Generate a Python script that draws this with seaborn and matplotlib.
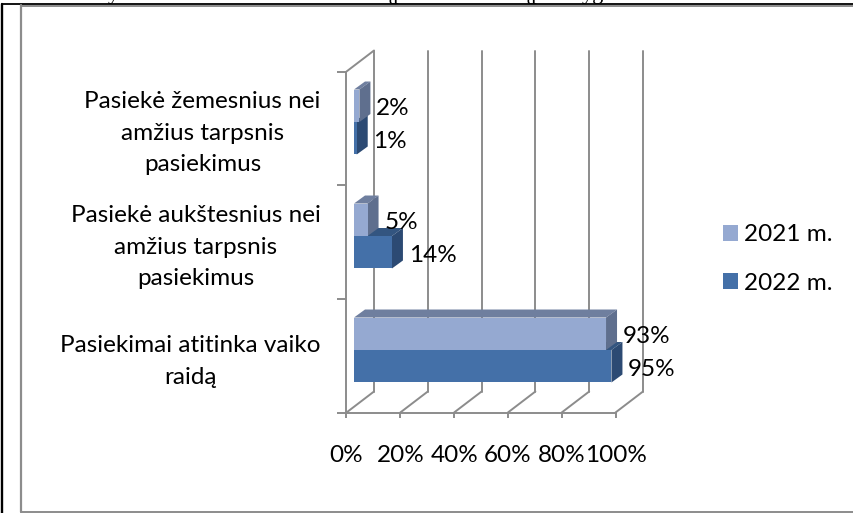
import numpy as np
import pandas as pd
import matplotlib
matplotlib.use("Agg")
import matplotlib.pyplot as plt
from matplotlib.lines import Line2D
from matplotlib.patches import Polygon, Patch
from matplotlib.transforms import Affine2D
import seaborn as sns

categories = ["Pasiekė žemesnius nei\namžius tarpsnis\npasiekimus",
              "Pasiekė aukštesnius nei\namžius tarpsnis\npasiekimus",
              "Pasiekimai atitinka vaiko\nraidą"]
series_names = ["2021 m.", "2022 m."]
values_2021 = [2, 5, 93]
values_2022 = [1, 14, 95]
percent_ticks = [0, 20, 40, 60, 80, 100]

front_colors = {"2021 m.": "#95A9D1", "2022 m.": "#4470A8"}
top_colors = {"2021 m.": "#6F7F9F", "2022 m.": "#335580"}
side_colors = {"2021 m.": "#5F6F8E", "2022 m.": "#2C4A73"}
GRID = "#8C8C8C"
W, H = 854, 513
FONT = "Lato"
FS = 17.5

sns.set_theme(style="white")
plt.rcParams["font.family"] = [FONT, "DejaVu Sans"]

df = pd.DataFrame({
    "category": categories * 2,
    "series": [series_names[0]] * 3 + [series_names[1]] * 3,
    "value": values_2021 + values_2022,
})

fig = plt.figure(figsize=(W / 100, H / 100), dpi=100, facecolor="white")


def px_axes(x0, y0, x1, y1, **kw):
    return fig.add_axes([x0 / W, 1 - y1 / H, (x1 - x0) / W, (y1 - y0) / H], **kw)


# --- box walls: an axes on the front plane, with grid lines pushed back in depth
wall = px_axes(346.5, 71.5, 615.5, 412.5)
wall.set_xlim(0, 100)
wall.set_ylim(3, 0)
wall.set_xticks(percent_ticks)
wall.set_xticklabels([f"{t}%" for t in percent_ticks], fontsize=FS, color="black")
wall.set_yticks(range(4))
wall.set_yticklabels([])
wall.tick_params(axis="x", length=3.6, width=1.4, color=GRID, pad=20, bottom=True)
wall.tick_params(axis="y", length=6.5, width=1.4, color=GRID, left=True)
sns.despine(ax=wall, top=True, right=True)
for s in ("left", "bottom"):
    wall.spines[s].set_color(GRID)
    wall.spines[s].set_linewidth(1.4)
wall.patch.set_alpha(0)
back = wall.get_xaxis_transform() + Affine2D().translate(27.5, 21)
xform = wall.get_xaxis_transform()
for t in percent_ticks:
    wall.plot([t, t], [0, 1], transform=back, color=GRID, lw=1.4, clip_on=False, zorder=1)
    p0 = xform.transform((t, 0))
    p1 = back.transform((t, 0))
    wall.add_line(Line2D([p0[0], p1[0]], [p0[1], p1[1]], transform=None, color=GRID, lw=1.4,
                         zorder=1, clip_on=False))
p0 = xform.transform((0, 1))
p1 = back.transform((0, 1))
wall.add_line(Line2D([p0[0], p1[0]], [p0[1], p1[1]], transform=None, color=GRID, lw=1.4,
                     zorder=1, clip_on=False))

# --- bars
ax = px_axes(354, 65, 625, 407)
ax.patch.set_alpha(0)
sns.barplot(data=df, y="category", x="value", hue="series", hue_order=series_names,
            order=categories, palette=front_colors, orient="h", width=0.57,
            dodge=True, ax=ax, legend=False, saturation=1, zorder=4)
ax.set_xlim(0, 100)
ax.set_ylim(2.5, -0.5)
ax.set_xlabel("")
ax.set_ylabel("")
ax.set_xticks([])
ax.set_yticks(np.arange(len(categories)) + 0.035)
ax.set_yticklabels(categories, fontsize=FS, color="black", multialignment="center", linespacing=1.62)
ax.tick_params(axis="y", length=0, pad=24)
sns.despine(ax=ax, left=True, bottom=True, top=True, right=True)

# depth faces, derived from each bar
DX, DY = 11, 8
for name, container, zo in zip(series_names, ax.containers, (3, 2)):
    for bar, val in zip(container, df[df.series == name]["value"]):
        bar.set_zorder(4)
        bar.set_edgecolor("none")
        (x0, ytop) = ax.transData.transform((bar.get_x(), bar.get_y()))
        (x1, ybot) = ax.transData.transform((bar.get_x() + bar.get_width(), bar.get_y() + bar.get_height()))
        top = [(x0, ytop), (x0 + DX, ytop + DY), (x1 + DX, ytop + DY), (x1, ytop)]
        side = [(x1, ytop), (x1 + DX, ytop + DY), (x1 + DX, ybot + DY), (x1, ybot)]
        ax.add_patch(Polygon(top, closed=True, transform=None, fc=top_colors[name], ec="none",
                             zorder=zo, clip_on=False))
        ax.add_patch(Polygon(side, closed=True, transform=None, fc=side_colors[name], ec="none",
                             zorder=zo + 0.1, clip_on=False))
        ax.annotate(f"{val}%", xy=(val, bar.get_y() + bar.get_height() / 2), xycoords="data",
                    xytext=(12, -2), textcoords="offset points", ha="left", va="center",
                    fontsize=FS, color="black", zorder=6, annotation_clip=False)

# --- legend
handles = [Patch(fc=front_colors[n], ec="none", label=n) for n in series_names]
fig.legend(handles=handles, loc="center left", bbox_to_anchor=(723 / W, 1 - 259 / H),
           frameon=False, fontsize=FS, handlelength=0.62, handleheight=0.62,
           handletextpad=0.26, labelspacing=1.12, borderpad=0, borderaxespad=0,
           labelcolor="black")

# --- page frame
fig.add_artist(Line2D([2 / W, 2 / W], [0, 1 - 4 / H], color="black", lw=1.7))
fig.add_artist(Line2D([2 / W, 1], [1 - 4 / H, 1 - 4 / H], color="black", lw=1.3))
fig.add_artist(Line2D([21 / W, 1], [1 - 5.5 / H, 1 - 5.5 / H], color=GRID, lw=1.4))
fig.add_artist(Line2D([21 / W, 21 / W], [1 - 5 / H, 1 - 512 / H], color=GRID, lw=1.6))
fig.add_artist(Line2D([21 / W, 1], [1 - 512 / H, 1 - 512 / H], color=GRID, lw=1.4))

# descenders of the document line above the chart, cut off by the page
for frag, x in [("y", 108), ("įp", 387), ("įp", 525), ("yg", 582)]:
    fig.text(x / W, 1 + 0.5 / H, frag, family="Liberation Serif", fontsize=16,
             ha="left", va="baseline", color="black")

fig.savefig("out.png", dpi=100)
